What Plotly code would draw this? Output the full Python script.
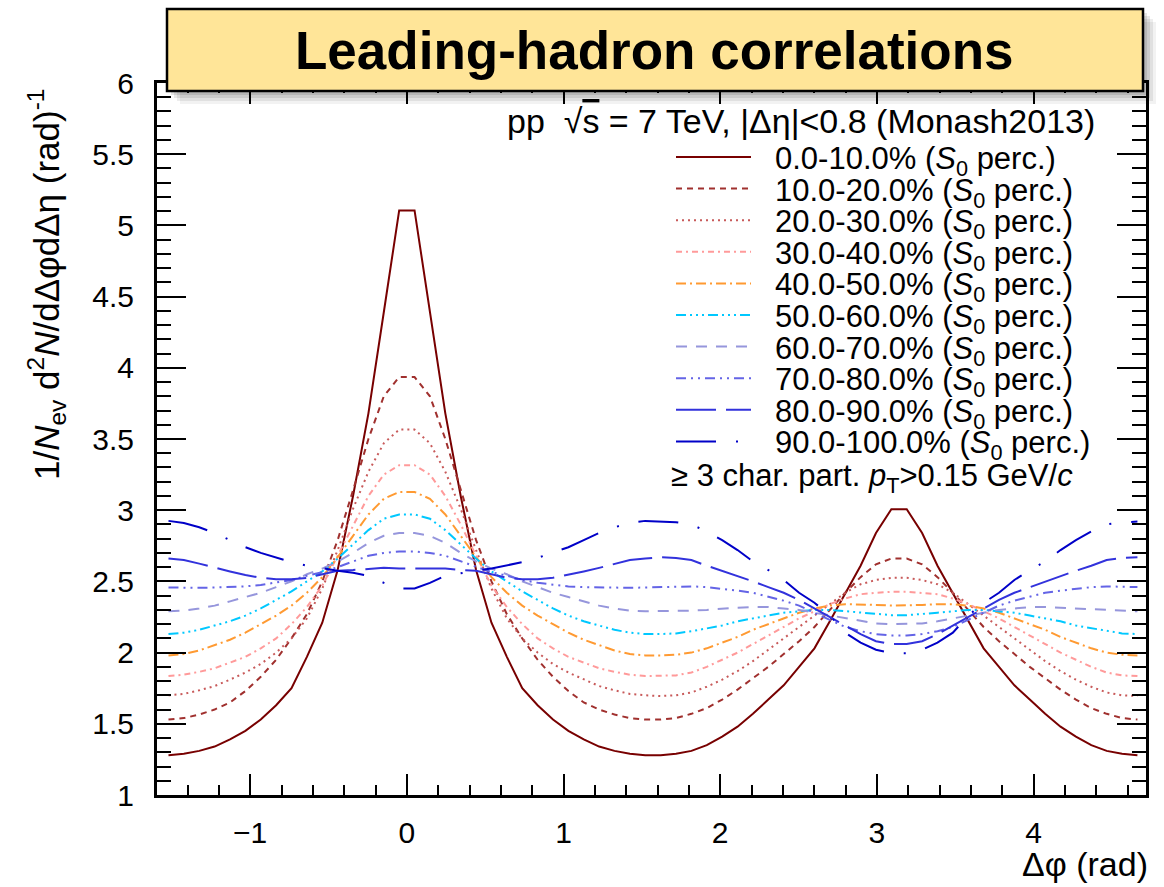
import numpy as np
import plotly.graph_objects as go

# ---------------- data (64 bins in delta-phi, -pi/2 .. 3pi/2) ----------------
N_BINS = 64
phi = -np.pi / 2 + (np.arange(N_BINS) + 0.5) * 2 * np.pi / N_BINS

labels = ["0.0-10.0%", "10.0-20.0%", "20.0-30.0%", "30.0-40.0%", "40.0-50.0%",
          "50.0-60.0%", "60.0-70.0%", "70.0-80.0%", "80.0-90.0%", "90.0-100.0%"]

s0_00_10 = [1.28, 1.29, 1.31, 1.34, 1.39, 1.45, 1.53, 1.63, 1.75, 1.97, 2.21, 2.58, 3.10, 3.68, 4.39, 5.105,
            5.105, 4.39, 3.68, 3.10, 2.58, 2.21, 1.97, 1.75, 1.63, 1.53, 1.45, 1.39, 1.34, 1.31, 1.29, 1.28,
            1.28, 1.29, 1.31, 1.35, 1.41, 1.48, 1.57, 1.67, 1.77, 1.90, 2.03, 2.22, 2.42, 2.61, 2.84, 3.007,
            3.007, 2.84, 2.61, 2.42, 2.22, 2.03, 1.90, 1.77, 1.67, 1.57, 1.48, 1.41, 1.35, 1.31, 1.29, 1.28]
s0_10_20 = [1.53, 1.54, 1.565, 1.60, 1.65, 1.73, 1.83, 1.95, 2.10, 2.27, 2.50, 2.79, 3.14, 3.50, 3.80, 3.935,
            3.935, 3.80, 3.50, 3.14, 2.79, 2.50, 2.27, 2.10, 1.95, 1.83, 1.73, 1.65, 1.60, 1.565, 1.54, 1.53,
            1.53, 1.54, 1.57, 1.61, 1.67, 1.74, 1.82, 1.90, 1.99, 2.08, 2.18, 2.30, 2.42, 2.53, 2.62, 2.66,
            2.66, 2.62, 2.53, 2.42, 2.30, 2.18, 2.08, 1.99, 1.90, 1.82, 1.74, 1.67, 1.61, 1.57, 1.54, 1.53]
s0_20_30 = [1.70, 1.71, 1.735, 1.765, 1.81, 1.86, 1.92, 2.00, 2.10, 2.24, 2.45, 2.72, 3.01, 3.27, 3.47, 3.566,
            3.566, 3.47, 3.27, 3.01, 2.72, 2.45, 2.24, 2.10, 2.00, 1.92, 1.86, 1.81, 1.765, 1.735, 1.71, 1.70,
            1.695, 1.70, 1.72, 1.76, 1.81, 1.87, 1.94, 2.02, 2.10, 2.18, 2.26, 2.34, 2.42, 2.48, 2.51, 2.525,
            2.525, 2.51, 2.48, 2.42, 2.34, 2.26, 2.18, 2.10, 2.02, 1.94, 1.87, 1.81, 1.76, 1.72, 1.70, 1.695]
s0_30_40 = [1.835, 1.845, 1.865, 1.89, 1.93, 1.97, 2.03, 2.10, 2.20, 2.32, 2.47, 2.68, 2.90, 3.10, 3.25, 3.316,
            3.316, 3.25, 3.10, 2.90, 2.68, 2.47, 2.32, 2.20, 2.10, 2.03, 1.97, 1.93, 1.89, 1.865, 1.845, 1.835,
            1.835, 1.84, 1.86, 1.90, 1.95, 2.00, 2.06, 2.12, 2.18, 2.24, 2.29, 2.34, 2.38, 2.41, 2.42, 2.427,
            2.427, 2.42, 2.41, 2.38, 2.34, 2.29, 2.24, 2.18, 2.12, 2.06, 2.00, 1.95, 1.90, 1.86, 1.84, 1.835]
s0_40_50 = [1.98, 1.99, 2.015, 2.05, 2.09, 2.14, 2.20, 2.26, 2.33, 2.42, 2.53, 2.67, 2.82, 2.97, 3.08, 3.128,
            3.128, 3.08, 2.97, 2.82, 2.67, 2.53, 2.42, 2.33, 2.26, 2.20, 2.14, 2.09, 2.05, 2.015, 1.99, 1.98,
            1.98, 1.985, 2.00, 2.03, 2.07, 2.11, 2.16, 2.20, 2.24, 2.28, 2.31, 2.33, 2.34, 2.34, 2.335, 2.33,
            2.33, 2.335, 2.34, 2.34, 2.33, 2.31, 2.28, 2.24, 2.20, 2.16, 2.11, 2.07, 2.03, 2.00, 1.985, 1.98]
s0_50_60 = [2.13, 2.14, 2.16, 2.19, 2.22, 2.26, 2.31, 2.37, 2.43, 2.50, 2.57, 2.66, 2.76, 2.86, 2.94, 2.97,
            2.97, 2.94, 2.86, 2.76, 2.66, 2.57, 2.50, 2.43, 2.37, 2.31, 2.26, 2.22, 2.19, 2.16, 2.14, 2.13,
            2.13, 2.135, 2.15, 2.17, 2.19, 2.22, 2.24, 2.26, 2.28, 2.29, 2.30, 2.30, 2.29, 2.28, 2.27, 2.263,
            2.263, 2.27, 2.28, 2.29, 2.30, 2.30, 2.29, 2.28, 2.26, 2.24, 2.22, 2.19, 2.17, 2.15, 2.135, 2.13]
s0_60_70 = [2.29, 2.295, 2.31, 2.33, 2.36, 2.39, 2.42, 2.46, 2.50, 2.55, 2.59, 2.64, 2.70, 2.77, 2.82, 2.84,
            2.84, 2.82, 2.77, 2.70, 2.64, 2.59, 2.55, 2.50, 2.46, 2.42, 2.39, 2.36, 2.33, 2.31, 2.295, 2.29,
            2.29, 2.29, 2.295, 2.30, 2.31, 2.315, 2.32, 2.32, 2.31, 2.30, 2.28, 2.26, 2.24, 2.22, 2.205, 2.20,
            2.20, 2.205, 2.22, 2.24, 2.26, 2.28, 2.30, 2.31, 2.32, 2.32, 2.315, 2.31, 2.30, 2.295, 2.29, 2.29]
s0_70_80 = [2.457, 2.455, 2.455, 2.457, 2.46, 2.465, 2.475, 2.49, 2.51, 2.54, 2.565, 2.60, 2.64, 2.68, 2.70, 2.71,
            2.71, 2.70, 2.68, 2.64, 2.60, 2.565, 2.54, 2.51, 2.49, 2.475, 2.465, 2.46, 2.457, 2.455, 2.455, 2.457,
            2.46, 2.465, 2.465, 2.46, 2.45, 2.435, 2.42, 2.395, 2.365, 2.33, 2.28, 2.23, 2.18, 2.15, 2.13, 2.12,
            2.12, 2.13, 2.15, 2.18, 2.23, 2.28, 2.33, 2.365, 2.395, 2.42, 2.435, 2.45, 2.46, 2.465, 2.465, 2.46]
s0_80_90 = [2.66, 2.65, 2.625, 2.595, 2.57, 2.545, 2.525, 2.515, 2.515, 2.525, 2.55, 2.575, 2.58, 2.59, 2.595, 2.59,
            2.59, 2.595, 2.59, 2.58, 2.575, 2.55, 2.525, 2.515, 2.515, 2.525, 2.545, 2.57, 2.595, 2.625, 2.65, 2.66,
            2.67, 2.665, 2.65, 2.61, 2.575, 2.54, 2.50, 2.46, 2.42, 2.37, 2.31, 2.25, 2.19, 2.13, 2.08, 2.06,
            2.06, 2.08, 2.13, 2.19, 2.25, 2.31, 2.37, 2.42, 2.46, 2.50, 2.54, 2.575, 2.61, 2.65, 2.665, 2.67]
s0_90_100 = [2.925, 2.91, 2.88, 2.84, 2.79, 2.74, 2.70, 2.665, 2.635, 2.61, 2.59, 2.575, 2.56, 2.54, 2.49, 2.45,
             2.45, 2.49, 2.54, 2.56, 2.575, 2.59, 2.61, 2.635, 2.665, 2.70, 2.74, 2.79, 2.84, 2.88, 2.91, 2.925,
             2.92, 2.915, 2.90, 2.85, 2.79, 2.72, 2.64, 2.58, 2.51, 2.42, 2.35, 2.26, 2.14, 2.07, 2.02, 1.995,
             1.995, 2.02, 2.07, 2.14, 2.26, 2.35, 2.42, 2.51, 2.58, 2.64, 2.72, 2.79, 2.85, 2.90, 2.915, 2.92]

series = [s0_00_10, s0_10_20, s0_20_30, s0_30_40, s0_40_50,
          s0_50_60, s0_60_70, s0_70_80, s0_80_90, s0_90_100]

x_tickvals = [-1, 0, 1, 2, 3, 4]
y_tickvals = [1, 1.5, 2, 2.5, 3, 3.5, 4, 4.5, 5, 5.5, 6]

# ---------------- styles ----------------
colors = ["#780000", "#a0302e", "#c85a5a", "#ff9a9a", "#ff9a32",
          "#00c8ff", "#9696dc", "#6464e6", "#3232dc", "#0000c8"]
dashes = ["solid", "6px,5px", "2px,4px", "6px,4px,2px,4px", "10px,4px,2px,4px",
          "10px,4px,2px,4px,2px,4px,2px,4px", "11px,9px", "10px,5px,2px,5px,2px,5px",
          "40px,10px", "40px,20px,2px,20px"]

FONT = "Liberation Sans, Arial, Helvetica, sans-serif"
W, H = 1164, 887
ML, MR, MT, MB = 157, 18, 83, 92


def fx(px):
    return (px - ML) / (W - ML - MR)


def fy(py):
    return (H - MB - py) / (H - MT - MB)


fig = go.Figure()
for lab, vals, col, dsh in zip(labels, series, colors, dashes):
    fig.add_trace(go.Scatter(x=phi, y=vals, mode="lines", name=lab, showlegend=False,
                             line=dict(color=col, width=2, dash=dsh)))

shapes = []
annotations = []

# title box with soft shadow
for off, a in [(13, 0.05), (10, 0.07), (7, 0.09), (4, 0.10)]:
    shapes.append(dict(type="rect", xref="paper", yref="paper", layer="above",
                       x0=fx(167 + off), x1=fx(1143 + off), y0=fy(91 + off), y1=fy(9 + off),
                       fillcolor=f"rgba(0,0,0,{a})", line=dict(width=0)))
shapes.append(dict(type="rect", xref="paper", yref="paper", layer="above",
                   x0=fx(167), x1=fx(1143), y0=fy(91), y1=fy(9),
                   fillcolor="#ffe598", line=dict(color="black", width=2.5)))
annotations.append(dict(text="<b>Leading-hadron correlations</b>", xref="paper", yref="paper",
                        x=fx(654), y=fy(51), xanchor="center", yanchor="middle", showarrow=False,
                        font=dict(family=FONT, size=53, color="black")))

# header text
annotations.append(dict(text="pp  √<span style=\"text-decoration:overline\">s</span> = 7 TeV, |Δη|&lt;0.8 (Monash2013)",
                        xref="paper", yref="paper", x=fx(1097), y=fy(121), xanchor="right",
                        yanchor="middle", showarrow=False,
                        font=dict(family=FONT, size=34, color="black")))

# legend
for k, (lab, col, dsh) in enumerate(zip(labels, colors, dashes)):
    yc = 157 + 31.6 * k
    shapes.append(dict(type="line", xref="paper", yref="paper", layer="above",
                       x0=fx(676), x1=fx(751), y0=fy(yc), y1=fy(yc),
                       line=dict(color=col, width=2, dash=dsh)))
    annotations.append(dict(text=f"{lab} (<i>S</i><sub>0</sub> perc.)", xref="paper", yref="paper",
                            x=fx(773), y=fy(yc + 4), xanchor="left", yanchor="middle", showarrow=False,
                            font=dict(family=FONT, size=31, color="black")))

annotations.append(dict(text="≥ 3 char. part. <i>p</i><sub>T</sub>&gt;0.15 GeV/<i>c</i>",
                        xref="paper", yref="paper", x=fx(669), y=fy(478), xanchor="left",
                        yanchor="middle", showarrow=False,
                        font=dict(family=FONT, size=31, color="black")))

# axis titles
annotations.append(dict(text="1/<i>N</i><sub>ev</sub> d<sup>2</sup><i>N</i>/dΔφdΔη (rad)<sup>-1</sup>",
                        xref="paper", yref="paper", x=fx(46), y=fy(86), xanchor="center",
                        yanchor="top", textangle=-90, showarrow=False,
                        font=dict(family=FONT, size=35, color="black")))
annotations.append(dict(text="Δφ (rad)", xref="paper", yref="paper", x=fx(1150), y=fy(864),
                        xanchor="right", yanchor="middle", showarrow=False,
                        font=dict(family=FONT, size=34, color="black")))

fig.update_layout(
    width=W, height=H,
    margin=dict(l=ML, r=MR, t=MT, b=MB, pad=0),
    paper_bgcolor="white", plot_bgcolor="white",
    font=dict(family=FONT, size=30, color="black"),
    shapes=shapes, annotations=annotations,
    showlegend=False,
    xaxis=dict(range=[-1.595, 4.718], tickvals=x_tickvals, ticks="inside", ticklen=21, tickwidth=2,
               tickcolor="black", showline=True, linewidth=3, linecolor="black", mirror="ticks",
               showgrid=False, zeroline=False, ticklabelstandoff=9,
               tickfont=dict(family=FONT, size=30, color="black"),
               minor=dict(dtick=0.2, tick0=0, ticks="inside", ticklen=10, tickwidth=2,
                          tickcolor="black", showgrid=False)),
    yaxis=dict(range=[1, 6], tickvals=y_tickvals, ticks="inside", ticklen=29, tickwidth=2,
               tickcolor="black", showline=True, linewidth=3, linecolor="black", mirror="ticks",
               showgrid=False, zeroline=False, ticklabelstandoff=14,
               tickfont=dict(family=FONT, size=30, color="black"),
               minor=dict(dtick=0.1, tick0=1, ticks="inside", ticklen=14, tickwidth=2,
                          tickcolor="black", showgrid=False)),
)

fig.write_html("out.html")
